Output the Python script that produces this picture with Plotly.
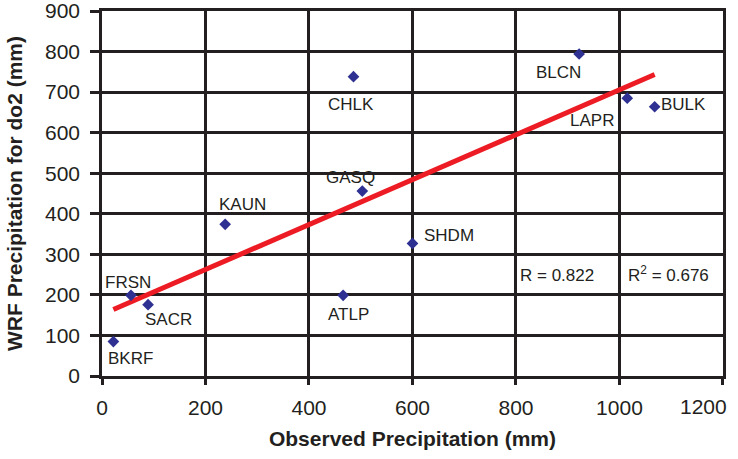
import numpy as np
import plotly.graph_objects as go

# Data
stations = ["BKRF", "FRSN", "SACR", "KAUN", "ATLP", "CHLK", "GASQ", "SHDM", "BLCN", "LAPR", "BULK"]
observed = [22, 56, 89, 238, 466, 486, 503, 600, 922, 1015, 1068]
wrf_do2 = [85, 199, 176, 374, 199, 738, 456, 327, 794, 685, 664]
r_text = "R = 0.822"
r2_text = "R<sup>2</sup> = 0.676"
x_ticks = [0, 200, 400, 600, 800, 1000, 1200]
x_tick_labels = ["0", "200", "400", "600", "800", "1000", "1200"]
y_ticks = [0, 100, 200, 300, 400, 500, 600, 700, 800, 900]

# label offsets (pixels) for station names
label_dx = [17, -3, 20, 17, 5, -2, -12, 37, -21, -35, 29]
label_dy = [-17, 13, -15, 20, -19, -28, 14, 8, -18, -22, 2]

INK = "#231f20"
FONT = "Liberation Sans, Arial, sans-serif"

slope, intercept = np.polyfit(observed, wrf_do2, 1)
fit_x = [min(observed), max(observed)]
fit_y = [slope * v + intercept for v in fit_x]

fig = go.Figure()
fig.add_trace(go.Scatter(
    x=fit_x, y=fit_y, mode="lines",
    line=dict(color="#ed1c24", width=5), hoverinfo="skip", showlegend=False))
fig.add_trace(go.Scatter(
    x=observed, y=wrf_do2, mode="markers",
    marker=dict(symbol="diamond", size=9, color="#2e3192", line=dict(width=0)),
    showlegend=False))

for s, xv, yv, dx, dy in zip(stations, observed, wrf_do2, label_dx, label_dy):
    fig.add_annotation(x=xv, y=yv, xref="x", yref="y", text=s, showarrow=False,
                       xshift=dx, yshift=dy, font=dict(family=FONT, size=17, color=INK))

fig.add_annotation(x=804, y=247, xref="x", yref="y", text=r_text, showarrow=False,
                   xanchor="left", font=dict(family=FONT, size=17, color=INK))
fig.add_annotation(x=1012, y=251, xref="x", yref="y", text=r2_text, showarrow=False,
                   xanchor="left", font=dict(family=FONT, size=17, color=INK))

# last x tick label is drawn right-aligned to the axis end (as in the original)
fig.add_annotation(x=x_ticks[-1], y=0, xref="x", yref="y", text=x_tick_labels[-1],
                   showarrow=False, xanchor="right", yanchor="middle",
                   xshift=6, yshift=-30, font=dict(family=FONT, size=21, color=INK))
shown_x_labels = x_tick_labels[:-1] + [""]

axis_common = dict(
    showgrid=True, gridcolor=INK, gridwidth=2.5,
    showline=True, linecolor=INK, linewidth=2.5, mirror=True,
    zeroline=False, ticks="outside", tickcolor=INK, tickwidth=2.5,
    tickfont=dict(family=FONT, size=21, color=INK), automargin=False,
    ticklabeloverflow="allow",
)

fig.update_xaxes(range=[0, 1200.05], tickvals=x_ticks, ticktext=shown_x_labels,
                 ticklen=6, ticklabelstandoff=5,
                 title=dict(text="<b>Observed Precipitation (mm)</b>", standoff=14,
                            font=dict(family=FONT, size=21, color=INK)),
                 **axis_common)
fig.update_yaxes(range=[0, 900.05], tickvals=y_ticks, ticklen=9, ticklabelstandoff=6,
                 title=dict(text="<b>WRF Precipitation for do2 (mm)</b>", standoff=17,
                            font=dict(family=FONT, size=21, color=INK)),
                 **axis_common)

fig.update_layout(
    width=738, height=459,
    margin=dict(l=102, r=15, t=11, b=83),
    paper_bgcolor="white", plot_bgcolor="white",
    font=dict(family=FONT, color=INK),
)

fig.write_html("out.html", config={"displayModeBar": False},
               post_script="document.body.style.margin='0';")
